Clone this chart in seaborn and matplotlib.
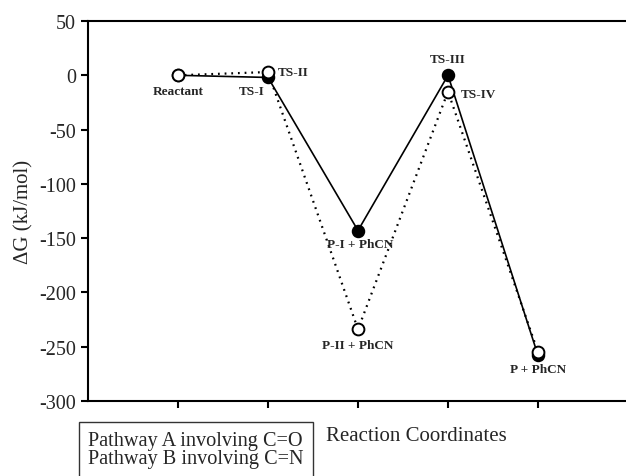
import matplotlib
matplotlib.use("Agg")
import matplotlib.pyplot as plt
import seaborn as sns
import pandas as pd
from matplotlib.lines import Line2D

# ---- data ----
steps = [1, 2, 3, 4, 5]
pathway_a = [0, -2, -143, 0, -258]      # filled, solid (C=O)
pathway_b = [0, 3, -234, -15, -255]     # open, dotted (C=N)
labels_a = ["Reactant", "TS-I", "P-I + PhCN", "TS-III", "P + PhCN"]
labels_b = [None, "TS-II", "P-II + PhCN", "TS-IV", None]
legend_labels = ["Pathway A involving C=O", "Pathway B involving C=N"]
yticks = [50, 0, -50, -100, -150, -200, -250, -300]

sns.set_style("ticks")
plt.rcParams['font.family'] = ['Liberation Serif', 'DejaVu Serif']
plt.rcParams['mathtext.fontset'] = 'stix'

fig = plt.figure(figsize=(6.26, 4.77), dpi=100)
W, H = 626, 477
ax = fig.add_axes([88 / W, (H - 402) / H, (628 - 88) / W, 380 / H])

df_a = pd.DataFrame({"x": steps, "y": pathway_a})
df_b = pd.DataFrame({"x": steps, "y": pathway_b})

sns.lineplot(data=df_a, x="x", y="y", ax=ax, color="black", linewidth=1.2,
             marker="o", markersize=8.5, markerfacecolor="black",
             markeredgecolor="black", markeredgewidth=1.2, zorder=3)
sns.lineplot(data=df_b, x="x", y="y", ax=ax, color="black", linewidth=1.6,
             linestyle=(0, (0.8, 2.2)), marker="o", markersize=8.5,
             markerfacecolor="white", markeredgecolor="black",
             markeredgewidth=1.4, zorder=4)

ax.set_xlim(0, 6)
ax.set_ylim(-300, 50)
ax.set_xticks(steps)
ax.set_xticklabels([])
ax.set_yticks(yticks)
ax.set_yticklabels([str(t) for t in yticks], fontsize=14.5)
ax.tick_params(axis="both", direction="out", length=5, width=1.5, color="black")
for side in ["left", "bottom", "top"]:
    ax.spines[side].set_visible(True)
    ax.spines[side].set_linewidth(1.5)
    ax.spines[side].set_color("black")
ax.spines["right"].set_visible(False)

ax.set_xlabel("")
ax.set_ylabel("ΔG (kJ/mol)", fontsize=15, labelpad=4)
fig.text(416 / W, 1 - 437 / H, "Reaction Coordinates", fontsize=15,
         ha="center", va="center")

# point annotations (offset in points)
fs = 9.5
ann = [
    (steps[0], pathway_a[0], labels_a[0], (0, -11.5), "center"),
    (steps[1], pathway_a[1], labels_a[1], (-11.5, -9.4), "center"),
    (steps[1], pathway_b[1], labels_b[1], (7, 0), "left"),
    (steps[2], pathway_a[2], labels_a[2], (1.4, -9.4), "center"),
    (steps[2], pathway_b[2], labels_b[2], (0, -11.5), "center"),
    (steps[3], pathway_a[3], labels_a[3], (0, 11.5), "center"),
    (steps[3], pathway_b[3], labels_b[3], (9.4, -2), "left"),
    (steps[4], pathway_a[4], labels_a[4], (0, -9.5), "center"),
]
for x, y, t, off, ha in ann:
    ax.annotate(t, (x, y), xytext=off, textcoords="offset points",
                ha=ha, va="center", fontsize=fs, fontweight="bold", zorder=5)

handles = [Line2D([], [], linestyle="none", marker="none") for _ in legend_labels]
leg = fig.legend(handles, legend_labels, loc="upper left",
                 bbox_to_anchor=(79 / W, 1 - 423 / H), frameon=True,
                 fancybox=False, fontsize=14.6, handlelength=0, handletextpad=0,
                 borderpad=0.45, labelspacing=-0.05, borderaxespad=0)
leg.get_frame().set_edgecolor("black")
leg.get_frame().set_linewidth(1.0)

fig.savefig("out.png", dpi=100)
